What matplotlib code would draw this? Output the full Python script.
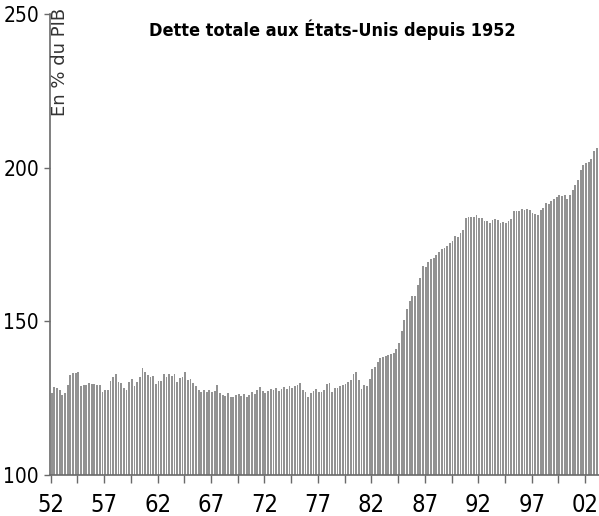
import numpy as np
import matplotlib
matplotlib.use("Agg")
import matplotlib.pyplot as plt
from matplotlib.ticker import FixedLocator, FuncFormatter

# total US debt, % of GDP, quarterly from 1952 Q1
debt_52_69 = [
    126.8, 128.6, 128.2, 127.7,
    126.0, 126.6, 129.3, 132.6,
    133.3, 133.3, 133.6, 129.0,
    129.2, 129.2, 130.0, 129.6,
    129.6, 129.3, 129.3, 127.1,
    127.5, 127.7, 130.7, 132.0,
    132.9, 130.4, 129.8, 128.2,
    127.7, 130.4, 131.2, 128.8,
    130.4, 131.8, 134.7, 133.6,
    132.6, 132.0, 132.2, 129.6,
    130.6, 130.7, 132.9, 132.0,
    132.9, 132.2, 132.9, 130.4,
    131.5, 132.0, 133.4, 130.9,
    131.2, 129.8, 128.8, 127.5,
    127.1, 127.5, 127.1, 127.7,
    127.1, 127.4, 129.3, 126.8,
    126.0, 125.7, 126.8, 125.5,
    125.3, 126.0,
]
debt_69_75 = [
    126.5, 125.8, 126.2, 125.5, 126.0, 127.0, 126.3, 127.5, 128.5, 127.4,
    126.8, 127.2, 128.0, 127.6, 128.3, 127.2, 128.0, 128.6, 127.9, 128.8,
    128.4, 129.0, 129.4,
]
debt_75_85 = [
    129.8, 127.7, 127.1, 125.5, 126.8, 127.4, 127.9, 127.1, 126.9, 127.5,
    129.5, 130.0, 127.1, 128.2, 128.2, 128.8, 129.3, 129.6, 130.4, 130.9,
    132.9, 133.4, 130.9, 127.9, 129.3, 129.0, 131.2, 134.4, 135.1, 136.9,
    138.0, 138.3, 138.8, 139.1, 139.4, 139.8, 140.9, 142.9,
    147.0, 150.5, 154.0, 156.5,
]
debt_85_03 = [
    158.1, 158.4, 161.9, 164.0, 167.9, 167.6, 169.2, 170.4, 170.6, 171.7,
    172.7, 173.6, 173.8, 174.4, 175.5, 176.3, 177.9, 177.4, 178.7, 179.8,
    183.6, 183.8, 183.8, 184.1, 184.7, 183.6, 183.6, 182.8, 182.5, 182.0,
    183.1, 183.3, 183.1, 182.0, 182.2, 182.0, 182.5, 183.3, 185.8, 186.0,
    186.0, 186.5, 186.3, 186.5, 186.1, 185.4, 185.0, 184.7, 186.3, 186.9,
    188.5, 188.3, 189.3, 189.8, 190.5, 191.0, 190.9, 191.2, 189.8, 191.2,
    192.8, 194.5, 195.9, 199.1, 201.0, 201.5, 202.0, 202.8, 205.3, 206.5,
]
debt = debt_52_69 + debt_69_75 + debt_75_85 + debt_85_03
quarters = 1952 + 0.25 * np.arange(len(debt))

label_years = list(range(1952, 2003, 5))
y_ticks = [100, 150, 200, 250]

narrow = ["Liberation Sans Narrow", "DejaVu Sans"]

fig = plt.figure(figsize=(5.99, 5.16), dpi=100)
ax = fig.add_axes([50 / 599, 41 / 516, 1 - 50 / 599, 461 / 516])

ax.bar(quarters, np.array(debt) - 100, bottom=100, width=0.17, align="edge",
       color="#929292", edgecolor="none")

ax.set_xlim(1951.93, 2003.3)
ax.set_ylim(100, 250)

for s in ["top", "right"]:
    ax.spines[s].set_visible(False)
for s in ["left", "bottom"]:
    ax.spines[s].set_color("#6a6a6a")
    ax.spines[s].set_linewidth(1.2)

ax.xaxis.set_major_locator(FixedLocator(label_years))
ax.xaxis.set_minor_locator(FixedLocator([y + 2.5 for y in label_years]))
ax.xaxis.set_major_formatter(FuncFormatter(lambda v, p: "%02d" % (int(round(v)) % 100)))
ax.set_yticks(y_ticks)

ax.tick_params(axis="x", which="both", direction="out", length=6, width=1,
               color="#6a6a6a", pad=7, labelsize=17)
ax.tick_params(axis="y", direction="out", length=4, width=1,
               color="#6a6a6a", pad=4, labelsize=15)
for lab in ax.get_xticklabels() + ax.get_yticklabels():
    lab.set_family(narrow)
    lab.set_stretch("condensed")

fig.text(332 / 599, 1 - 30 / 516, "Dette totale aux États-Unis depuis 1952",
         ha="center", va="center", fontsize=13, fontweight="bold",
         family=narrow, stretch="condensed")
fig.text(60 / 599, 1 - 116 / 516, "En % du PIB", rotation=90,
         ha="center", va="bottom", fontsize=13, color="#333333")

fig.savefig("out.png", dpi=100)
